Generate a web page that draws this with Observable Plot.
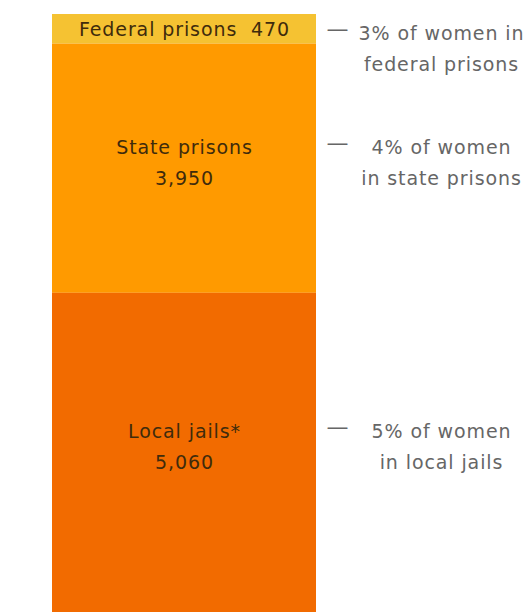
<!DOCTYPE html>
<html>
<head>
<meta charset="utf-8">
<script src="https://cdn.jsdelivr.net/npm/d3@7"></script>
<script src="https://cdn.jsdelivr.net/npm/@observablehq/plot@0.6"></script>
<style>
  html, body { margin: 0; padding: 0; background: #fff; }
  #chart text { letter-spacing: 0.9px; }
</style>
</head>
<body>
<div id="chart"></div>
<script>
const categories = ["Federal prisons", "State prisons", "Local jails*"];
const counts = [470, 3950, 5060];
const shares = ["3%", "4%", "5%"];
const noteTails = ["in\nfederal prisons", "\nin state prisons", "\nin local jails"];
const colors = ["#f5c232", "#ff9a00", "#f26b00"];

const fmt = d3.format(",");
const total = d3.sum(counts);
const starts = [0, ...d3.cumsum(counts)].slice(0, counts.length);
const rows = categories.map((c, i) => ({
  group: "women",
  category: c,
  count: counts[i],
  mid: starts[i] + counts[i] / 2,
  label: i === 0 ? `${c}  ${fmt(counts[i])}` : `${c}\n${fmt(counts[i])}`,
  labelLines: i === 0 ? 1 : 2,
  note: `${shares[i]} of women ${noteTails[i]}`.replace(" \n", "\n")
}));

const LH = 31;
const FS = 19;
const font = "'DejaVu Sans', sans-serif";
const SHIFT = -9; // two-line labels sit slightly above segment middle

const noteMarks = rows.map(r => {
  const dyFirst = r.labelLines === 1 ? 1 : -(LH / 2) + SHIFT; // first line of label
  return [
    Plot.text([r], {x: "group", y: "mid", text: () => "—", textAnchor: "start", dx: 142,
      dy: dyFirst - 1, fontSize: 22, fill: "#666", fontFamily: font}),
    Plot.text([r], {x: "group", y: "mid", text: "note", textAnchor: "middle", dx: 257,
      dy: dyFirst + LH / 2, lineHeight: LH / FS, fontSize: FS, fill: "#666", fontFamily: font})
  ];
});

const chart = Plot.plot({
  width: 530,
  height: 612,
  marginTop: 14,
  marginBottom: 0,
  marginLeft: 52,
  marginRight: 214,
  x: {domain: ["women"], range: [52, 316], padding: 0, axis: null},
  y: {domain: [0, total], reverse: true, axis: null},
  color: {domain: categories, range: colors},
  style: {fontFamily: font, background: "#fff"},
  marks: [
    Plot.barY(rows, Plot.stackY({x: "group", y: "count", fill: "category", inset: 0})),
    Plot.text(rows.filter(r => r.labelLines === 1), {x: "group", y: "mid", text: "label",
      fontSize: FS, fill: "#3f2b0c", dy: 1, fontFamily: font}),
    Plot.text(rows.filter(r => r.labelLines === 2), {x: "group", y: "mid", text: "label",
      lineHeight: LH / FS, fontSize: FS, fill: "#3f2b0c", dy: SHIFT, fontFamily: font}),
    ...noteMarks
  ]
});
document.getElementById("chart").appendChild(chart);
</script>
</body>
</html>
